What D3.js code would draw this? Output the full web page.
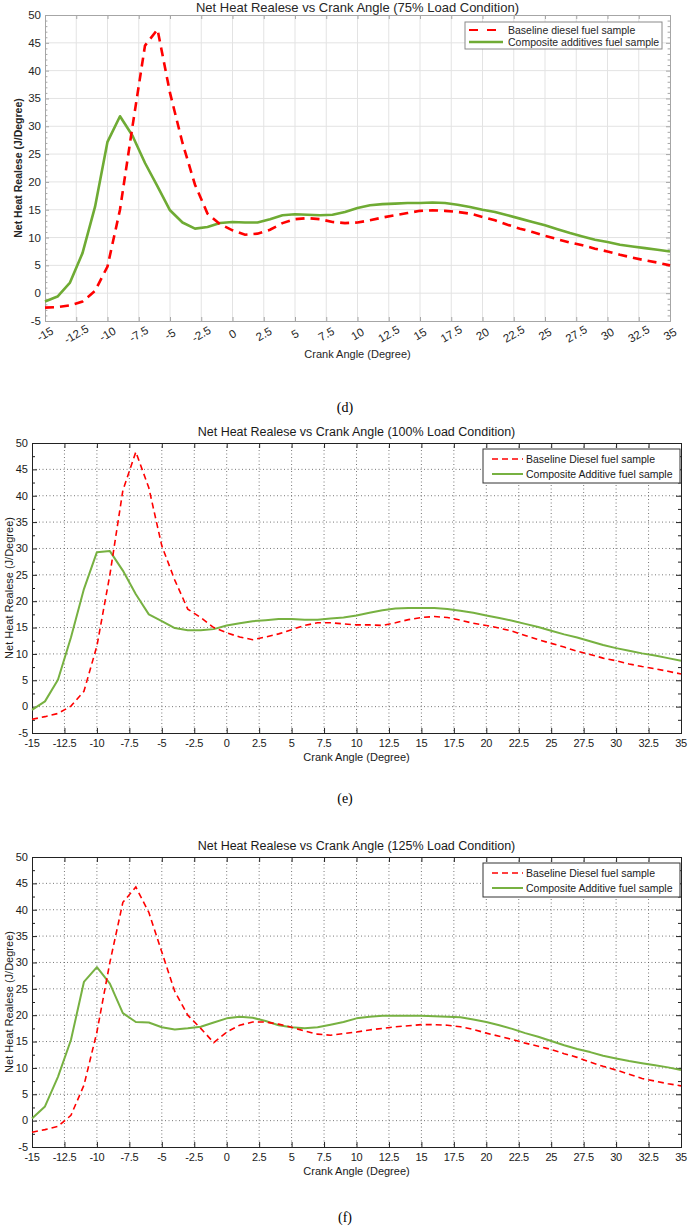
<!DOCTYPE html>
<html>
<head>
<meta charset="utf-8">
<script src="https://cdn.jsdelivr.net/npm/d3@7"></script>
<style>
  body { margin: 0; background: #fff; }
  svg { display: block; }
</style>
</head>
<body>
<svg id="chart" width="690" height="1227"></svg>
<script>
// crank angle (degree), one sample per degree
const angles = [-15,-14,-13,-12,-11,-10,-9,-8,-7,-6,-5,-4,-3,-2,-1,0,1,2,3,4,5,6,7,8,9,10,
  11,12,13,14,15,16,17,18,19,20,21,22,23,24,25,26,27,28,29,30,31,32,33,34,35];

// (d) 75% load
const baseline75 = [-2.6,-2.5,-2.2,-1.5,0.4,4.8,15.0,30.0,44.5,47.4,36.0,27.0,19.5,14.3,12.4,11.3,10.5,10.7,11.4,12.6,
  13.3,13.5,13.3,12.8,12.6,12.7,13.1,13.6,14.0,14.4,14.8,14.9,14.8,14.6,14.3,13.7,13.1,12.3,11.6,11.0,
  10.3,9.7,9.1,8.6,8.0,7.5,6.9,6.4,5.9,5.5,5.0];
const composite75 = [-1.5,-0.6,1.9,7.2,15.5,27.2,31.8,28.3,23.4,19.2,14.9,12.7,11.6,11.9,12.6,12.8,12.7,12.7,13.3,14.0,
  14.2,14.1,14.0,14.1,14.6,15.3,15.8,16.0,16.1,16.2,16.2,16.3,16.2,15.9,15.5,15.0,14.6,14.0,13.4,12.8,
  12.2,11.5,10.8,10.2,9.6,9.2,8.7,8.4,8.1,7.8,7.5];

// (e) 100% load
const baseline100 = [-2.4,-1.9,-1.3,0.1,2.9,11.5,25.0,41.0,48.3,41.5,30.5,24.0,18.5,16.9,15.0,14.0,13.2,12.7,13.2,13.8,
  14.6,15.4,15.9,15.9,15.7,15.5,15.5,15.4,15.9,16.5,16.9,17.1,16.9,16.4,15.8,15.4,14.9,14.3,13.5,12.7,
  12.0,11.3,10.5,9.9,9.2,8.7,8.1,7.6,7.2,6.7,6.2];
const composite100 = [-0.6,1.0,5.1,13.1,22.3,29.3,29.5,25.8,21.3,17.5,16.2,14.9,14.5,14.5,14.7,15.4,15.8,16.2,16.4,16.6,
  16.6,16.5,16.5,16.7,16.9,17.3,17.8,18.3,18.6,18.7,18.7,18.7,18.5,18.2,17.8,17.3,16.8,16.3,15.7,15.1,
  14.4,13.7,13.1,12.4,11.7,11.1,10.6,10.1,9.7,9.2,8.7];

// (f) 125% load
const baseline125 = [-2.2,-1.7,-1.1,1.0,6.7,16.8,30.0,41.4,44.3,39.5,32.0,24.5,20.0,17.5,14.8,16.8,18.1,18.7,18.7,18.3,
  17.7,17.0,16.4,16.2,16.5,16.8,17.2,17.5,17.8,18.0,18.2,18.2,18.1,17.8,17.3,16.6,16.0,15.4,14.7,14.1,
  13.5,12.7,12.0,11.1,10.3,9.6,8.8,8.0,7.5,7.0,6.6];
const composite125 = [0.4,2.7,8.3,15.3,26.3,29.1,26.0,20.4,18.7,18.6,17.7,17.3,17.5,17.8,18.6,19.4,19.7,19.5,18.9,18.1,
  17.7,17.5,17.7,18.2,18.7,19.4,19.7,19.9,19.9,19.9,19.9,19.8,19.7,19.6,19.2,18.7,18.1,17.4,16.6,15.9,
  15.1,14.3,13.6,13.0,12.3,11.8,11.3,10.9,10.5,10.1,9.6];

const xTicks = [-15,-12.5,-10,-7.5,-5,-2.5,0,2.5,5,7.5,10,12.5,15,17.5,20,22.5,25,27.5,30,32.5,35];
const yTicks = [-5,0,5,10,15,20,25,30,35,40,45,50];

const titles = [
  "Net Heat Realese vs Crank Angle (75% Load Condition)",
  "Net Heat Realese vs Crank Angle (100% Load Condition)",
  "Net Heat Realese vs Crank Angle (125% Load Condition)"
];
const captions = ["(d)", "(e)", "(f)"];
const legendLabels = [
  ["Baseline diesel fuel sample", "Composite additives fuel sample"],
  ["Baseline Diesel fuel sample", "Composite Additive fuel sample"],
  ["Baseline Diesel fuel sample", "Composite Additive fuel sample"]
];
const yLabel = "Net Heat Realese  (J/Degree)";
const xLabel = "Crank Angle (Degree)";

const svg = d3.select("#chart");
const sans = "'Liberation Sans', Arial, sans-serif";

// layout + style of each panel
const panels = [
  { base: baseline75, comp: composite75, l: 45, r: 670, t: 15, b: 321, modern: true,
    titleY: 11.5, xLabY: 358, capY: 412, yLabX: 18, legend: { x: 465, y: 22, w: 197, h: 27 } },
  { base: baseline100, comp: composite100, l: 32, r: 681, t: 443, b: 733, modern: false,
    titleY: 436, xLabY: 761, capY: 803, yLabX: 9, legend: { x: 483, y: 449, w: 197, h: 34 } },
  { base: baseline125, comp: composite125, l: 32, r: 681, t: 857, b: 1147, modern: false,
    titleY: 850, xLabY: 1175, capY: 1222, yLabX: 9, legend: { x: 483, y: 863, w: 197, h: 34 } }
];

panels.forEach((p, i) => drawPanel(p, i));

function drawPanel(p, i) {
  const x = d3.scaleLinear().domain([-15, 35]).range([p.l, p.r]);
  const y = d3.scaleLinear().domain([-5, 50]).range([p.b, p.t]);
  const g = svg.append("g");

  const gridCol = p.modern ? "#e3e3e3" : "#555";
  const axisCol = p.modern ? "#a6a6a6" : "#222";
  const textCol = p.modern ? "#262626" : "#1a1a1a";

  // grid
  const grid = g.append("g").attr("stroke", gridCol)
    .attr("stroke-width", p.modern ? 1 : 0.8)
    .attr("stroke-dasharray", p.modern ? null : "1,2.5");
  grid.selectAll(".gx").data(xTicks.slice(1, -1)).enter().append("line")
    .attr("x1", d => x(d)).attr("x2", d => x(d)).attr("y1", p.t).attr("y2", p.b);
  grid.selectAll(".gy").data(yTicks.slice(1, -1)).enter().append("line")
    .attr("y1", d => y(d)).attr("y2", d => y(d)).attr("x1", p.l).attr("x2", p.r);

  // axes with inward ticks on all four sides
  const minorStep = p.modern ? 1 : 2.5;
  const yMinor = d3.range(-5, 50.01, minorStep).filter(v => Math.abs(v % 5) > 0.01);
  const tickLen = p.modern ? 4 : 5;

  const bottom = g.append("g").attr("transform", `translate(0,${p.b})`)
    .call(d3.axisBottom(x).tickValues(xTicks).tickSize(-tickLen).tickFormat(""));
  const top = g.append("g").attr("transform", `translate(0,${p.t})`)
    .call(d3.axisTop(x).tickValues(xTicks).tickSize(-tickLen).tickFormat(""));
  const left = g.append("g").attr("transform", `translate(${p.l},0)`)
    .call(d3.axisLeft(y).tickValues(yTicks).tickSize(-tickLen).tickFormat(""));
  const right = g.append("g").attr("transform", `translate(${p.r},0)`)
    .call(d3.axisRight(y).tickValues(yTicks).tickSize(-tickLen).tickFormat(""));
  const leftMinor = g.append("g").attr("transform", `translate(${p.l},0)`)
    .call(d3.axisLeft(y).tickValues(yMinor).tickSize(-tickLen * 0.6).tickFormat(""));
  const rightMinor = g.append("g").attr("transform", `translate(${p.r},0)`)
    .call(d3.axisRight(y).tickValues(yMinor).tickSize(-tickLen * 0.6).tickFormat(""));
  [bottom, top, left, right, leftMinor, rightMinor].forEach(a => {
    a.selectAll("path").attr("stroke", axisCol).attr("stroke-width", 1);
    a.selectAll("line").attr("stroke", axisCol);
  });

  // tick labels
  const xl = g.append("g").attr("font-family", sans).attr("font-size", p.modern ? 11.5 : 11).attr("fill", textCol);
  if (p.modern) {
    xl.selectAll("text").data(xTicks).enter().append("text")
      .attr("transform", d => `translate(${x(d)},${p.b + 13}) rotate(-30)`)
      .attr("text-anchor", "middle").attr("dy", "0.35em")
      .text(d => d);
  } else {
    xl.selectAll("text").data(xTicks).enter().append("text")
      .attr("x", d => x(d)).attr("y", p.b + 14)
      .attr("text-anchor", "middle").attr("letter-spacing", -0.3)
      .text(d => d);
  }
  g.append("g").attr("font-family", sans).attr("font-size", p.modern ? 11.5 : 11).attr("fill", textCol)
    .selectAll("text").data(yTicks).enter().append("text")
    .attr("x", p.l - 4).attr("y", d => y(d)).attr("dy", "0.35em")
    .attr("text-anchor", "end").text(d => d);

  // lines
  const line = series => d3.line().x((d, k) => x(angles[k])).y(d => y(d))(series);
  g.append("path").attr("d", line(p.comp)).attr("fill", "none")
    .attr("stroke", p.modern ? "#6fab34" : "#77b141")
    .attr("stroke-width", p.modern ? 2.6 : 2).attr("stroke-linejoin", "round");
  g.append("path").attr("d", line(p.base)).attr("fill", "none")
    .attr("stroke", "#ff0000")
    .attr("stroke-width", p.modern ? 2.6 : 1.6)
    .attr("stroke-dasharray", p.modern ? "9,6" : "6,4");

  // title, axis labels, caption
  g.append("text").attr("x", (p.l + p.r) / 2).attr("y", p.titleY)
    .attr("text-anchor", "middle").attr("font-family", sans)
    .attr("font-size", p.modern ? 13 : 12.5).attr("fill", textCol).text(titles[i]);
  g.append("text").attr("x", (p.l + p.r) / 2).attr("y", p.xLabY)
    .attr("text-anchor", "middle").attr("font-family", sans)
    .attr("font-size", 11).attr("fill", textCol).text(xLabel);
  g.append("text")
    .attr("transform", `translate(${p.yLabX},${(p.t + p.b) / 2}) rotate(-90)`)
    .attr("text-anchor", "middle").attr("dy", "0.35em").attr("font-family", sans)
    .attr("font-size", p.modern ? 10.5 : 11).attr("font-weight", p.modern ? "bold" : "normal")
    .attr("fill", textCol).text(yLabel);
  g.append("text").attr("x", 345).attr("y", p.capY).attr("text-anchor", "middle")
    .attr("font-family", "'Liberation Serif', 'Times New Roman', serif")
    .attr("font-size", 14).attr("fill", "#000").text(captions[i]);

  // legend
  const lg = p.legend;
  const leg = g.append("g").attr("transform", `translate(${lg.x},${lg.y})`);
  leg.append("rect").attr("width", lg.w).attr("height", lg.h)
    .attr("fill", "#fff").attr("stroke", p.modern ? "#8a8a8a" : "#333").attr("stroke-width", 1);
  const rowY = p.modern ? [8, 20] : [10, 25];
  const sx = p.modern ? [4, 38] : [9, 40];
  const tx = 43;
  leg.append("line").attr("x1", sx[0]).attr("x2", sx[1]).attr("y1", rowY[0]).attr("y2", rowY[0])
    .attr("stroke", "#ff0000").attr("stroke-width", p.modern ? 2.2 : 1.6)
    .attr("stroke-dasharray", p.modern ? "9,9" : "6,4");
  leg.append("line").attr("x1", sx[0]).attr("x2", sx[1]).attr("y1", rowY[1]).attr("y2", rowY[1])
    .attr("stroke", p.modern ? "#6fab34" : "#77b141").attr("stroke-width", p.modern ? 2.4 : 2);
  leg.selectAll(".lt").data(legendLabels[i]).enter().append("text")
    .attr("x", tx).attr("y", (d, k) => rowY[k]).attr("dy", "0.35em")
    .attr("font-family", sans).attr("font-size", 10.5)
    .attr("fill", textCol).text(d => d);
}
</script>
</body>
</html>
